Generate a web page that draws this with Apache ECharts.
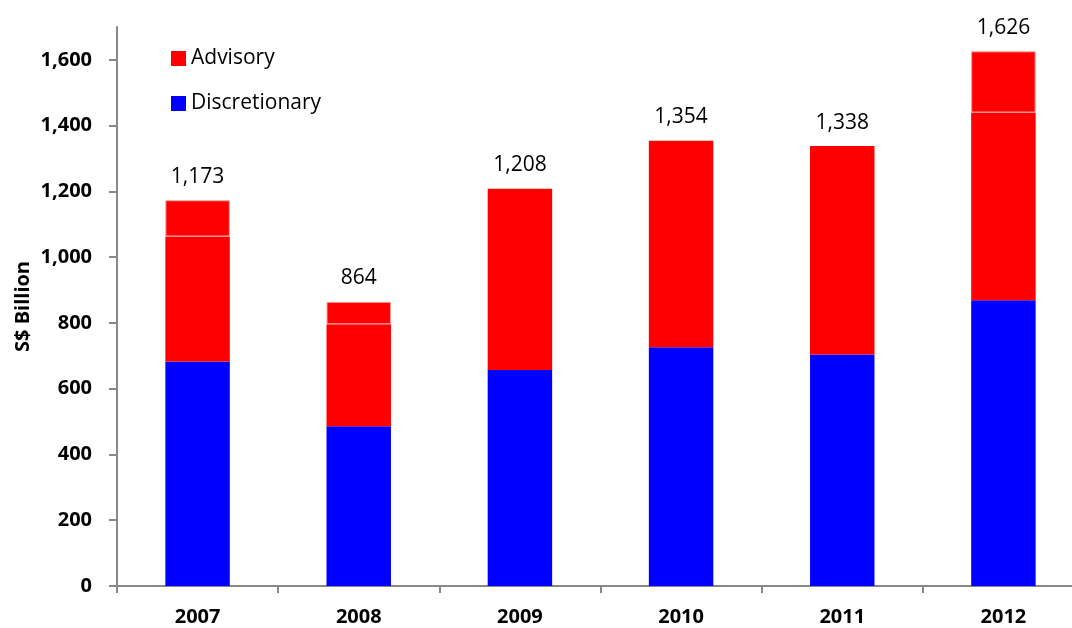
<!DOCTYPE html>
<html>
<head>
<meta charset="utf-8">
<script src="https://cdn.jsdelivr.net/npm/echarts@6/dist/echarts.min.js"></script>
<style>
html,body{margin:0;padding:0;background:#fff;overflow:hidden;width:1072px;height:628px;}
#chart{width:1084px;height:628px;}
</style>
</head>
<body>
<div id="chart"></div>
<script>
const years = ['2007', '2008', '2009', '2010', '2011', '2012'];
const discretionary = [683, 486, 657, 726, 704, 869];
const advisoryLower = [380, 310, 551, 628, 634, 571];
const advisoryUpper = [110, 68, 0, 0, 0, 186];
const totals = [1173, 864, 1208, 1354, 1338, 1626];
const yTicks = [0, 200, 400, 600, 800, 1000, 1200, 1400, 1600];

const FONT = 'Open Sans';
const fmt = v => v.toLocaleString('en-US');

const chart = echarts.init(document.getElementById('chart'), null, {renderer: 'canvas'});
chart.setOption({
  animation: false,
  backgroundColor: '#fff',
  grid: {left: 117, top: 27, bottom: 42, right: 0, containLabel: false},
  legend: {
    orient: 'vertical',
    left: 166,
    top: 43,
    itemGap: 24,
    itemWidth: 15,
    itemHeight: 15,
    icon: 'rect',
    data: ['Advisory', 'Discretionary'],
    textStyle: {fontFamily: FONT, fontSize: 21, color: '#000', padding: [0, 0, 0, 0]}
  },
  xAxis: {
    type: 'category',
    data: years,
    boundaryGap: true,
    axisLine: {lineStyle: {color: '#888', width: 2}},
    axisTick: {show: true, length: 7, lineStyle: {color: '#888', width: 2}},
    axisLabel: {fontFamily: FONT, fontWeight: 'bold', fontSize: 20, color: '#000', margin: 21}
  },
  yAxis: {
    type: 'value',
    min: 0,
    max: 1700,
    interval: 200,
    name: 'S$ Billion',
    nameLocation: 'middle',
    nameGap: 84,
    nameMoveOverlap: false,
    nameRotate: 90,
    nameTextStyle: {fontFamily: FONT, fontWeight: 'bold', fontSize: 20, color: '#000'},
    splitLine: {show: false},
    axisLine: {show: true, lineStyle: {color: '#888', width: 2}},
    axisTick: {show: true, length: 8, lineStyle: {color: '#888', width: 2}},
    axisLabel: {
      fontFamily: FONT, fontWeight: 'bold', fontSize: 20, color: '#000', margin: 25,
      showMaxLabel: false,
      formatter: v => (yTicks.indexOf(v) >= 0 ? fmt(v) : '')
    }
  },
  series: [
    {
      name: 'Discretionary', type: 'bar', stack: 'aum', data: discretionary,
      barWidth: '40%', itemStyle: {color: '#0000ff'}
    },
    {
      name: 'Advisory', type: 'bar', stack: 'aum', data: advisoryLower,
      itemStyle: {color: '#ff0000'}
    },
    {
      name: 'Advisory ', type: 'bar', stack: 'aum',
      data: advisoryUpper.map(v => ({
        value: v,
        itemStyle: v ? {color: '#ff0000', borderColor: '#ff9a9a', borderWidth: 1} : {color: '#ff0000', borderWidth: 0}
      })),
      itemStyle: {color: '#ff0000'},
      label: {
        show: true, position: 'top', distance: 13,
        fontFamily: FONT, fontSize: 21, color: '#000',
        formatter: p => fmt(totals[p.dataIndex])
      }
    }
  ]
});
</script>
</body>
</html>
